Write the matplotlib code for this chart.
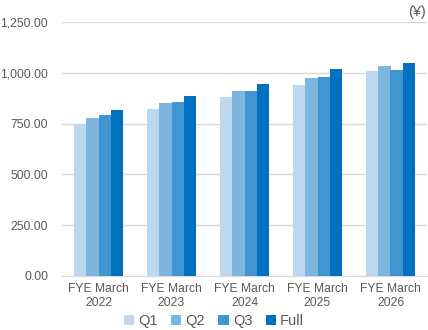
import numpy as np
import matplotlib.pyplot as plt
from matplotlib.ticker import FuncFormatter

# Données
annees = ["FYE March\n2022", "FYE March\n2023", "FYE March\n2024", "FYE March\n2025", "FYE March\n2026"]
series = ["Q1", "Q2", "Q3", "Full"]
q1 = [750, 820, 879, 938, 1007]
q2 = [776, 850, 908, 972, 1032]
q3 = [790, 855, 908, 977, 1012]
full = [815, 884, 943, 1017, 1046]
couleurs = ["#BDD7EE", "#7FB6DF", "#3F96D0", "#0070C0"]

plt.rcParams['font.family'] = ['Liberation Sans', 'DejaVu Sans']
gris = "#595959"

fig = plt.figure(figsize=(4.28, 3.30), dpi=100)
ax = fig.add_axes([62/428, 54/330, 365/428, 254/330])

x = np.arange(len(annees))
largeur = 0.165
for i, (nom, vals) in enumerate(zip(series, [q1, q2, q3, full])):
    ax.bar(x + (i - 1.5) * largeur, vals, largeur, color=couleurs[i], label=nom, zorder=3)

ax.set_xlim(-0.5, len(annees) - 0.5)
ax.set_ylim(0, 1250)
ax.set_yticks(np.arange(0, 1251, 250))
ax.yaxis.set_major_formatter(FuncFormatter(lambda v, p: f"{v:,.2f}"))
ax.set_xticks(x)
ax.set_xticklabels(annees)

ax.grid(axis='y', color="#D9D9D9", linewidth=1, zorder=0)
for s in ["top", "right", "left"]:
    ax.spines[s].set_visible(False)
ax.spines["bottom"].set_color("#D9D9D9")
ax.tick_params(axis='both', length=0, colors=gris, labelsize=8.7)
ax.tick_params(axis='y', pad=10)
ax.tick_params(axis='x', pad=5)
for t in ax.get_xticklabels():
    t.set_linespacing(1.25)

fig.text(0.995, 0.985, "(¥)", ha='right', va='top', color=gris, fontsize=10.5)

fig.legend(loc='lower center', bbox_to_anchor=(0.5, -0.034), ncol=4, frameon=False,
           fontsize=10.5, handlelength=0.7, handleheight=0.7, handletextpad=0.3,
           columnspacing=0.9, labelcolor=gris)

fig.savefig("out.png", dpi=100)
